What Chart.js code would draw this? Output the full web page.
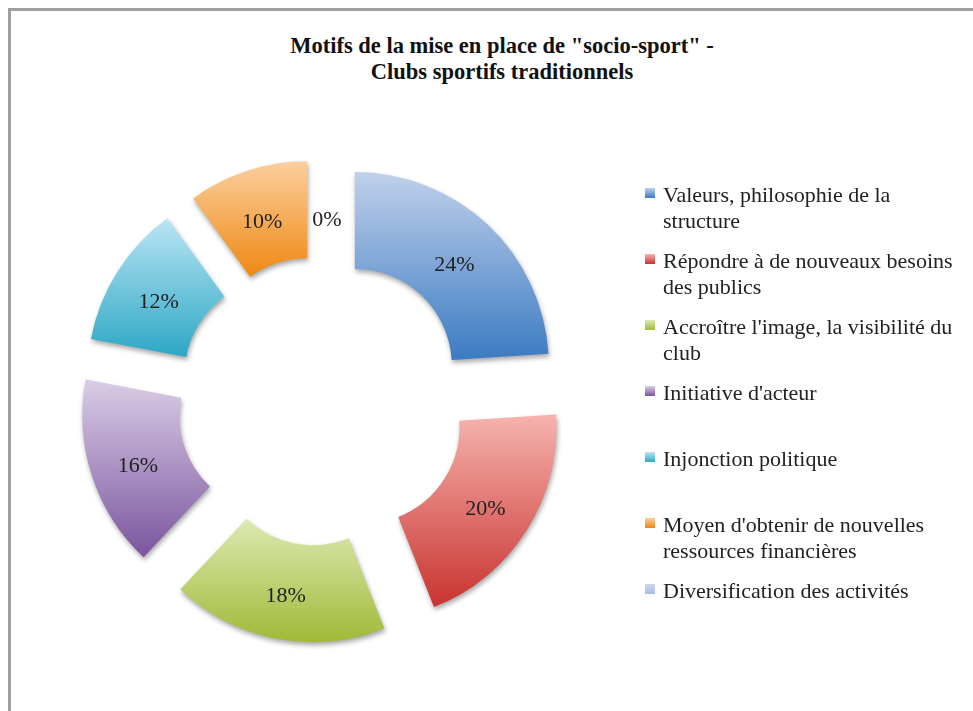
<!DOCTYPE html>
<html>
<head>
<meta charset="utf-8">
<script src="https://cdn.jsdelivr.net/npm/chart.js@4"></script>
<style>
  body { margin: 0; background: #fff; width: 973px; height: 711px; overflow: hidden; position: relative; }
  #frame { position: absolute; left: 8px; top: 8px; width: 1000px; height: 720px; border: 3px solid #9f9f9f; box-sizing: border-box; }
  #title { position: absolute; left: 8px; width: 988px; top: 33px; text-align: center;
           font: bold 22.5px "Liberation Serif", "Times New Roman", serif; line-height: 26px; color: #111; }
  #myChart { position: absolute; left: 0; top: 0; }
  #legend { position: absolute; left: 645px; top: 182px; }
  .item { position: relative; height: 66px; }
  .item .box { position: absolute; left: 0; top: 6px; width: 10px; height: 10px; }
  .item .txt { position: absolute; left: 18px; top: 0; width: 305px;
               font: 22px "Liberation Serif", "Times New Roman", serif; line-height: 26px; color: #222; }
</style>
</head>
<body>
<div id="frame"></div>
<div id="title">Motifs de la mise en place de "socio-sport" -<br>Clubs sportifs traditionnels</div>
<canvas id="myChart" width="973" height="711"></canvas>
<div id="legend"></div>
<script>
var categories = [
    'Valeurs, philosophie de la structure',
    'Répondre à de nouveaux besoins des publics',
    "Accroître l'image, la visibilité du club",
    "Initiative d'acteur",
    'Injonction politique',
    "Moyen d'obtenir de nouvelles ressources financières",
    'Diversification des activités'
];
var shares = [24, 20, 18, 16, 12, 10, 0];

// couleurs haut / bas du dégradé de chaque part
var topColors = ['#c0d0eb', '#f6b3af', '#dde9b3', '#d9cde6', '#bbe5f4', '#fbcf9f', '#cad7ef'];
var bottomColors = ['#3b7bc2', '#c9332e', '#a0ba37', '#7b559f', '#2ca7c5', '#ef8812', '#a8bce2'];

var EXPLODE = 48;

function sliceGradient(ctx, i, y0, y1) {
    var g = ctx.createLinearGradient(0, y0, 0, y1);
    g.addColorStop(0, topColors[i]);
    g.addColorStop(1, bottomColors[i]);
    return g;
}

// écarte les parts du centre et pose le dégradé vertical
var explodePlugin = {
    id: 'explode',
    afterDatasetsUpdate: function(chart) {
        var ctx = chart.ctx;
        var arcs = chart.getDatasetMeta(0).data;
        arcs.forEach(function(arc, i) {
            var mid = (arc.startAngle + arc.endAngle) / 2;
            arc.x = arc.x + Math.cos(mid) * EXPLODE;
            arc.y = arc.y + Math.sin(mid) * EXPLODE;
            var ymin = Infinity, ymax = -Infinity;
            for (var k = 0; k <= 40; k++) {
                var a = arc.startAngle + (arc.endAngle - arc.startAngle) * k / 40;
                [arc.innerRadius, arc.outerRadius].forEach(function(r) {
                    var y = arc.y + Math.sin(a) * r;
                    if (y < ymin) ymin = y;
                    if (y > ymax) ymax = y;
                });
            }
            var opts = Object.assign({}, arc.options);
            opts.backgroundColor = sliceGradient(ctx, i, ymin, ymax);
            arc.options = opts;
        });
    },
    beforeDatasetsDraw: function(chart) {
        var ctx = chart.ctx;
        ctx.save();
        ctx.shadowColor = 'rgba(0, 0, 0, 0.35)';
        ctx.shadowBlur = 5;
        ctx.shadowOffsetX = 1;
        ctx.shadowOffsetY = 3;
    },
    afterDatasetsDraw: function(chart) {
        var ctx = chart.ctx;
        ctx.restore();
        var arcs = chart.getDatasetMeta(0).data;
        ctx.save();
        ctx.font = '22px "Liberation Serif", "Times New Roman", serif';
        ctx.fillStyle = '#222';
        ctx.textAlign = 'center';
        ctx.textBaseline = 'middle';
        arcs.forEach(function(arc, i) {
            var mid = (arc.startAngle + arc.endAngle) / 2;
            var r = (arc.innerRadius + arc.outerRadius) / 2;
            var dx = 0;
            if (shares[i] === 0) { r = r - 8; dx = 5; }
            ctx.fillText(shares[i] + '%', arc.x + Math.cos(mid) * r + dx, arc.y + Math.sin(mid) * r + 5);
        });
        ctx.restore();
    }
};

var ctx = document.getElementById('myChart').getContext('2d');
var myChart = new Chart(ctx, {
    type: 'doughnut',
    data: {
        labels: categories,
        datasets: [{
            data: shares,
            backgroundColor: bottomColors,
            borderWidth: 0
        }]
    },
    options: {
        responsive: false,
        animation: false,
        events: [],
        radius: 194,
        cutout: '50%',
        layout: { padding: { left: 32, right: 361, top: 111, bottom: 20 } },
        plugins: {
            legend: { display: false },
            title: { display: false },
            tooltip: { enabled: false }
        }
    },
    plugins: [explodePlugin]
});

// légende
var legend = document.getElementById('legend');
for (var i = 0; i < categories.length; i++) {
    var item = document.createElement('div');
    item.className = 'item';
    var box = document.createElement('div');
    box.className = 'box';
    box.style.background = 'linear-gradient(' + topColors[i] + ', ' + bottomColors[i] + ')';
    var txt = document.createElement('div');
    txt.className = 'txt';
    txt.textContent = categories[i];
    item.appendChild(box);
    item.appendChild(txt);
    legend.appendChild(item);
}
</script>
</body>
</html>
